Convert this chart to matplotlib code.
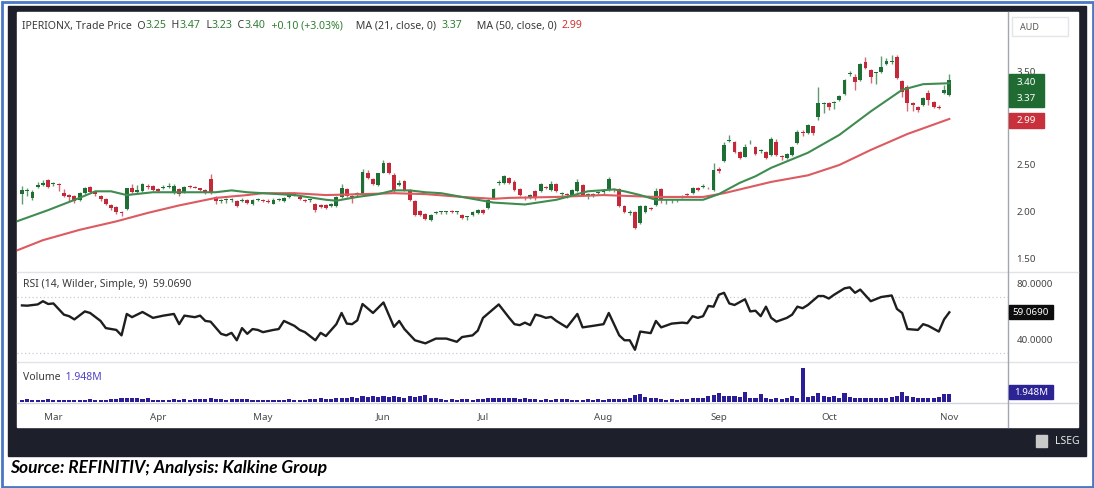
import matplotlib
matplotlib.use("Agg")
import matplotlib.pyplot as plt
import matplotlib.transforms as mtransforms
from matplotlib.patches import Rectangle
import numpy as np
import pandas as pd

plt.rcParams['font.family'] = ['Noto Sans', 'DejaVu Sans']

W, H = 1094, 488

# ASX trading days on the chart, 22 Feb - 1 Nov 2024
asx_holidays = ["2024-03-29", "2024-04-01", "2024-04-25", "2024-06-10"]
dates = pd.bdate_range("2024-02-22", "2024-11-01", freq="C", holidays=asx_holidays)

# daily candles (AUD)
opens = [2.19, 2.22, 2.15, 2.27, 2.29, 2.34, 2.30, 2.30, 2.20, 2.18,
         2.17, 2.13, 2.20, 2.27, 2.21, 2.17, 2.14, 2.07, 2.05, 2.00,
         2.03, 2.26, 2.21, 2.22, 2.28, 2.28, 2.24, 2.25, 2.27, 2.20,
         2.24, 2.21, 2.28, 2.27, 2.25, 2.23, 2.35, 2.16, 2.12, 2.13,
         2.13, 2.12, 2.12, 2.13, 2.08, 2.13, 2.13, 2.12, 2.09, 2.13,
         2.12, 2.16, 2.19, 2.16, 2.13, 2.13, 2.09, 2.07, 2.07, 2.06,
         2.06, 2.16, 2.24, 2.17, 2.18, 2.19, 2.42, 2.35, 2.29, 2.42,
         2.52, 2.39, 2.29, 2.33, 2.23, 2.12, 2.01, 1.98, 1.91, 1.99,
         2.00, 2.00, 2.01, 2.00, 1.97, 1.95, 1.97, 1.99, 2.02, 2.04,
         2.15, 2.31, 2.31, 2.36, 2.32, 2.24, 2.16, 2.15, 2.22, 2.22,
         2.27, 2.23, 2.30, 2.19, 2.19, 2.18, 2.22, 2.29, 2.18, 2.18,
         2.20, 2.21, 2.23, 2.24, 2.24, 2.06, 1.99, 2.00, 1.88, 2.00,
         2.04, 2.07, 2.24, 2.13, 2.13, 2.13, 2.16, 2.19, 2.20, 2.26,
         2.27, 2.26, 2.23, 2.46, 2.54, 2.76, 2.75, 2.64, 2.59, 2.74,
         2.69, 2.65, 2.64, 2.61, 2.75, 2.60, 2.57, 2.61, 2.73, 2.85,
         2.84, 2.91, 3.01, 3.15, 3.16, 3.16, 3.19, 3.26, 3.47, 3.44,
         3.40, 3.60, 3.51, 3.48, 3.49, 3.57, 3.60, 3.65, 3.39, 3.33,
         3.16, 3.12, 3.14, 3.27, 3.17, 3.12, 3.27, 3.25]
highs = [2.28, 2.26, 2.23, 2.32, 2.34, 2.35, 2.32, 2.31, 2.24, 2.19,
         2.18, 2.21, 2.27, 2.28, 2.22, 2.18, 2.15, 2.08, 2.06, 2.01,
         2.26, 2.30, 2.29, 2.31, 2.30, 2.29, 2.25, 2.29, 2.31, 2.30,
         2.25, 2.28, 2.29, 2.28, 2.26, 2.24, 2.40, 2.17, 2.14, 2.15,
         2.15, 2.13, 2.15, 2.14, 2.14, 2.15, 2.14, 2.14, 2.15, 2.15,
         2.16, 2.21, 2.21, 2.17, 2.14, 2.14, 2.10, 2.08, 2.08, 2.10,
         2.17, 2.30, 2.25, 2.18, 2.21, 2.46, 2.45, 2.36, 2.42, 2.55,
         2.53, 2.41, 2.34, 2.34, 2.24, 2.13, 2.02, 1.99, 1.98, 2.01,
         2.01, 2.01, 2.02, 2.01, 1.98, 1.96, 2.01, 2.03, 2.03, 2.14,
         2.25, 2.34, 2.39, 2.37, 2.34, 2.25, 2.17, 2.19, 2.23, 2.31,
         2.28, 2.33, 2.31, 2.21, 2.20, 2.24, 2.35, 2.30, 2.20, 2.20,
         2.22, 2.22, 2.37, 2.25, 2.25, 2.07, 2.02, 2.01, 2.07, 2.07,
         2.05, 2.25, 2.25, 2.14, 2.14, 2.14, 2.18, 2.20, 2.27, 2.27,
         2.30, 2.27, 2.52, 2.48, 2.74, 2.82, 2.76, 2.65, 2.72, 2.77,
         2.70, 2.67, 2.65, 2.80, 2.78, 2.61, 2.63, 2.70, 2.87, 2.87,
         2.94, 2.92, 3.33, 3.17, 3.17, 3.18, 3.24, 3.41, 3.50, 3.47,
         3.58, 3.65, 3.52, 3.49, 3.66, 3.64, 3.67, 3.67, 3.40, 3.35,
         3.17, 3.13, 3.22, 3.30, 3.18, 3.14, 3.35, 3.47]
lows = [2.08, 2.17, 2.13, 2.25, 2.28, 2.26, 2.28, 2.22, 2.16, 2.12,
        2.10, 2.12, 2.19, 2.20, 2.17, 2.12, 2.07, 2.02, 1.98, 1.96,
        2.02, 2.20, 2.20, 2.21, 2.24, 2.22, 2.21, 2.24, 2.25, 2.19,
        2.17, 2.20, 2.26, 2.25, 2.22, 2.19, 2.19, 2.08, 2.10, 2.10,
        2.11, 2.05, 2.11, 2.09, 2.07, 2.12, 2.11, 2.10, 2.08, 2.12,
        2.11, 2.15, 2.17, 2.13, 2.11, 2.11, 2.00, 2.04, 2.03, 2.05,
        2.05, 2.15, 2.16, 2.10, 2.17, 2.18, 2.35, 2.29, 2.28, 2.41,
        2.40, 2.20, 2.28, 2.22, 2.12, 1.96, 1.96, 1.92, 1.90, 1.98,
        1.98, 1.98, 1.99, 1.98, 1.93, 1.92, 1.96, 1.98, 1.98, 2.03,
        2.14, 2.29, 2.30, 2.30, 2.22, 2.17, 2.13, 2.14, 2.13, 2.21,
        2.24, 2.22, 2.21, 2.16, 2.15, 2.17, 2.21, 2.17, 2.14, 2.16,
        2.18, 2.19, 2.22, 2.21, 2.05, 1.99, 1.97, 1.82, 1.87, 1.99,
        2.02, 2.06, 2.10, 2.09, 2.10, 2.11, 2.15, 2.16, 2.19, 2.22,
        2.26, 2.24, 2.22, 2.42, 2.53, 2.74, 2.63, 2.56, 2.58, 2.72,
        2.61, 2.63, 2.56, 2.60, 2.60, 2.55, 2.56, 2.60, 2.72, 2.81,
        2.83, 2.82, 2.98, 3.05, 3.08, 3.10, 3.18, 3.25, 3.45, 3.30,
        3.39, 3.52, 3.37, 3.36, 3.48, 3.56, 3.57, 3.42, 3.22, 3.07,
        3.07, 3.06, 3.13, 3.14, 3.11, 3.10, 3.26, 3.23]
closes = [2.23, 2.23, 2.21, 2.29, 2.31, 2.27, 2.30, 2.29, 2.17, 2.16,
          2.12, 2.20, 2.25, 2.21, 2.19, 2.14, 2.08, 2.04, 2.00, 1.99,
          2.25, 2.21, 2.23, 2.30, 2.27, 2.23, 2.22, 2.27, 2.27, 2.28,
          2.19, 2.27, 2.27, 2.26, 2.23, 2.20, 2.20, 2.12, 2.12, 2.13,
          2.13, 2.06, 2.13, 2.10, 2.13, 2.13, 2.12, 2.11, 2.13, 2.14,
          2.15, 2.20, 2.18, 2.14, 2.12, 2.13, 2.02, 2.05, 2.04, 2.09,
          2.16, 2.25, 2.17, 2.16, 2.20, 2.43, 2.36, 2.30, 2.41, 2.52,
          2.42, 2.22, 2.31, 2.23, 2.13, 1.97, 1.97, 1.93, 1.97, 2.00,
          2.00, 2.00, 2.00, 2.00, 1.94, 1.95, 2.00, 2.02, 1.99, 2.13,
          2.24, 2.32, 2.38, 2.31, 2.23, 2.18, 2.15, 2.18, 2.15, 2.30,
          2.26, 2.30, 2.22, 2.19, 2.18, 2.23, 2.32, 2.18, 2.18, 2.19,
          2.21, 2.21, 2.35, 2.23, 2.06, 2.00, 2.00, 1.83, 2.06, 2.06,
          2.03, 2.22, 2.13, 2.13, 2.13, 2.13, 2.17, 2.18, 2.26, 2.23,
          2.28, 2.25, 2.45, 2.44, 2.71, 2.77, 2.64, 2.57, 2.69, 2.75,
          2.62, 2.66, 2.57, 2.78, 2.61, 2.59, 2.62, 2.69, 2.85, 2.84,
          2.93, 2.84, 3.16, 3.15, 3.12, 3.17, 3.23, 3.40, 3.48, 3.38,
          3.57, 3.53, 3.44, 3.48, 3.54, 3.61, 3.60, 3.43, 3.28, 3.16,
          3.14, 3.08, 3.21, 3.19, 3.12, 3.11, 3.30, 3.40]

# moving averages, read at points along the lines (candle index, value)
ma21_idx = [-1, 5, 11, 14, 17, 20, 25, 31, 37, 40, 43, 46, 52, 58, 60, 64, 68, 71, 74, 77, 80, 84,
            87, 90, 93, 96, 102, 108, 113, 115, 118, 121, 124, 130, 133, 137, 140, 143, 150, 156,
            162, 168, 172, 177]
ma21 = [1.90, 2.02, 2.15, 2.22, 2.22, 2.18, 2.21, 2.21, 2.21, 2.23, 2.21, 2.20, 2.18, 2.13, 2.12,
        2.16, 2.19, 2.23, 2.23, 2.21, 2.20, 2.16, 2.13, 2.10, 2.09, 2.08, 2.13, 2.22, 2.24, 2.22,
        2.18, 2.13, 2.13, 2.13, 2.19, 2.31, 2.38, 2.47, 2.63, 2.82, 3.07, 3.30, 3.36, 3.37]
ma50_idx = [-1, 4, 11, 18, 24, 30, 37, 43, 46, 52, 58, 65, 71, 77, 84, 90, 93, 102, 111, 121, 130,
            134, 137, 140, 143, 150, 156, 162, 169, 173, 177]
ma50 = [1.59, 1.70, 1.81, 1.90, 1.99, 2.07, 2.15, 2.18, 2.20, 2.20, 2.18, 2.19, 2.20, 2.19, 2.16,
        2.14, 2.15, 2.16, 2.18, 2.16, 2.16, 2.20, 2.24, 2.28, 2.32, 2.39, 2.50, 2.66, 2.83, 2.91, 2.99]

# RSI(14) turning points (candle index, value)
rsi_idx = [0, 1, 3, 4, 5, 6, 8, 9, 10, 12, 13, 15, 16, 18, 19, 20, 21, 23, 25, 27,
           29, 30, 31, 33, 34, 35, 36, 38, 39, 40, 41, 42, 43, 44, 45, 46, 48, 49, 50, 52,
           53, 54, 56, 57, 58, 60, 61, 62, 63, 64, 65, 67, 69, 71, 72, 73, 75, 77, 79, 81,
           83, 84, 86, 87, 88, 91, 93, 94, 95, 96, 97, 98, 99, 100, 101, 102, 104, 106, 107, 109,
           111, 112, 114, 115, 116, 117, 118, 120, 121, 122, 124, 126, 127, 128, 129, 130, 131, 132, 133, 134,
           135, 136, 138, 139, 140, 141, 142, 143, 144, 146, 147, 148, 149, 150, 152, 153, 154, 155, 157, 158,
           159, 160, 162, 164, 166, 167, 168, 169, 171, 172, 173, 175, 176, 177]
rsi = [64.0, 63.8, 64.7, 67.0, 65.0, 65.4, 57.4, 56.3, 54.0, 59.7,
       58.6, 52.9, 47.8, 46.5, 42.6, 57.9, 55.6, 59.3, 55.1, 56.7,
       57.9, 50.6, 56.7, 55.6, 56.7, 52.9, 52.4, 43.7, 42.6, 44.4,
       39.1, 47.8, 43.7, 47.1, 46.5, 44.9, 46.5, 47.1, 52.9, 49.4,
       46.5, 44.9, 39.1, 44.4, 42.1, 50.6, 58.6, 51.0, 50.6, 53.3,
       65.0, 58.6, 66.1, 48.7, 52.9, 47.1, 39.1, 36.9, 40.3, 40.3,
       38.0, 41.4, 42.6, 46.0, 55.1, 64.7, 55.1, 50.6, 49.9, 51.7,
       49.9, 57.4, 56.5, 55.1, 55.8, 52.9, 48.3, 57.9, 48.3, 49.4,
       50.6, 58.6, 42.6, 39.1, 39.1, 32.3, 45.3, 44.2, 52.9, 48.3,
       51.0, 51.7, 51.3, 56.3, 55.1, 56.3, 63.6, 63.1, 71.6, 73.0,
       65.4, 64.3, 68.4, 59.7, 60.2, 56.3, 63.1, 55.1, 52.4, 55.1,
       57.4, 63.1, 62.0, 64.3, 70.7, 70.7, 68.9, 71.6, 76.2, 76.9,
       73.0, 75.3, 67.0, 70.0, 71.1, 61.5, 58.6, 47.1, 46.5, 50.6,
       49.4, 45.3, 54.0, 59.069]

# daily volume, millions of shares
volume = [0.5, 0.6, 0.5, 0.4, 0.5, 0.6, 0.5, 0.5, 0.4, 0.5,
          0.4, 0.5, 0.5, 0.6, 0.5, 0.4, 0.5, 0.6, 0.7, 0.9,
          1.0, 0.9, 1.0, 0.7, 0.9, 0.5, 0.4, 0.4, 0.5, 0.6,
          0.5, 0.6, 0.5, 0.6, 0.7, 0.6, 0.8, 0.7, 0.6, 0.5,
          0.7, 0.6, 0.6, 0.7, 0.5, 0.4, 0.4, 0.5, 0.5, 0.4,
          0.5, 0.6, 0.5, 0.4, 0.5, 0.7, 0.6, 0.8, 0.7, 0.6,
          0.8, 1.0, 0.9, 1.1, 1.0, 1.3, 1.2, 1.4, 1.2, 1.3,
          1.1, 1.3, 1.2, 1.0, 1.3, 1.2, 1.4, 1.7, 0.9, 1.0,
          0.6, 0.5, 0.6, 0.5, 0.7, 0.6, 0.5, 0.7, 0.6, 0.9,
          1.0, 0.8, 1.0, 0.9, 0.9, 0.7, 0.8, 0.6, 0.7, 0.5,
          0.6, 0.5, 0.6, 0.7, 0.6, 0.5, 0.4, 0.5, 0.6, 0.5,
          0.6, 0.5, 0.6, 0.7, 0.6, 0.7, 0.8, 1.7, 1.8, 1.1,
          0.8, 0.8, 0.6, 0.5, 0.6, 0.5, 0.7, 0.6, 0.8, 0.9,
          0.8, 1.5, 1.6, 2.1, 1.4, 1.5, 1.3, 1.1, 2.4, 0.9,
          1.0, 1.9, 0.8, 0.6, 1.0, 0.7, 0.8, 1.4, 0.9, 8.6,
          1.2, 1.4, 2.1, 1.3, 1.15, 1.3, 1.0, 2.1, 1.2, 1.0,
          0.9, 1.0, 0.8, 1.0, 0.9, 1.0, 1.1, 1.3, 2.4, 1.4,
          1.1, 1.0, 0.9, 1.0, 1.0, 1.1, 1.95, 1.948]

price_ticks = [1.5, 2.0, 2.5, 3.0, 3.5]
rsi_ticks = [40, 80]

UP, DOWN = '#1d6f34', '#c4293a'
MA21_C, MA50_C = '#3f8c50', '#dc5a60'
VOL_C = '#2b1c98'
FRAME = '#1d202b'

fig = plt.figure(figsize=(W / 100, H / 100), dpi=100)
fig.patch.set_facecolor('white')


def px_axes(x0, y0, x1, y1):
    # axes placed by pixel box (top-left origin)
    return fig.add_axes([x0 / W, 1 - y1 / H, (x1 - x0) / W, (y1 - y0) / H])


# frame layer in pixel coordinates
bg = px_axes(0, 0, W, H)
bg.set_xlim(0, W)
bg.set_ylim(H, 0)
bg.axis('off')
bg.add_patch(Rectangle((1.5, 1.5), W - 3, H - 3, fill=False, ec='#4a78c4', lw=2))
bg.add_patch(Rectangle((8, 6), 1078, 450, color=FRAME))
bg.add_patch(Rectangle((17, 12), 1061, 415, color='white'))
bg.plot([17, 1078], [271.5, 271.5], color='#e1e3ea', lw=1)
bg.plot([17, 1078], [361.5, 361.5], color='#e1e3ea', lw=1)
bg.plot([17, 1078], [402.5, 402.5], color='#d3d5dc', lw=1)
bg.plot([1008, 1008], [12, 427], color='#a3a6ae', lw=1)

# AUD tag
bg.add_patch(Rectangle((1012, 17), 56, 19, fc='white', ec='#e3e5ea', lw=1))
bg.text(1020, 27, 'AUD', fontsize=6.5, color='#555555', va='center')

# LSEG mark in the bottom band
bg.add_patch(Rectangle((1036, 435), 11, 12, color='#c9c9c9'))
bg.text(1080, 441, 'LSEG', fontsize=7.5, color='#e8e8e8', ha='right', va='center')

bg.text(10, 468, 'Source: REFINITIV; Analysis: Kalkine Group', fontfamily='Lato',
        fontweight='bold', fontstyle='italic', fontsize=12.5, color='black', va='center')


def chain_text(ax, x, y, parts, size=7):
    t = ax.text(x, y, parts[0][0], color=parts[0][1], fontsize=size, va='center', ha='left')
    for s, col in parts[1:]:
        t = ax.annotate(s, xy=(1, 0), xycoords=t, va='bottom', ha='left', color=col, fontsize=size)
    return t


G, R, K = '#2e7d32', '#d32f2f', '#3a3a3a'
chain_text(bg, 22, 26, [('IPERIONX, Trade Price  O', K), ('3.25', G), ('  H', K), ('3.47', G),
                        ('  L', K), ('3.23', G), ('  C', K), ('3.40', G), ('  +0.10 (+3.03%)', G),
                        ('     MA (21, close, 0)  ', K), ('3.37', G),
                        ('     MA (50, close, 0)  ', K), ('2.99', R)], size=7.6)
chain_text(bg, 23, 285, [('RSI (14, Wilder, Simple, 9)  59.0690', K)], size=7.5)
chain_text(bg, 23, 377, [('Volume', K), ('  1.948M', '#4f43c4')], size=7.5)

XL = (-0.95, 188.2)
idx = np.arange(len(closes))
o, hi, lo, c = (np.array(a) for a in (opens, highs, lows, closes))
col = np.where(c >= o, UP, DOWN)


def clean(ax):
    ax.set_facecolor('none')
    for s in ax.spines.values():
        s.set_visible(False)
    ax.set_xlim(*XL)
    ax.yaxis.tick_right()
    ax.tick_params(axis='y', length=0, pad=6, labelsize=7, labelcolor='#444444')
    ax.tick_params(axis='x', length=0)


def value_box(ax, y0, y1, width, color, labels):
    tr = mtransforms.blended_transform_factory(ax.transAxes, ax.transData)
    ax.add_patch(Rectangle((1.001, y0), width, y1 - y0, transform=tr, color=color,
                           clip_on=False, zorder=5))
    for txt, yv in labels:
        ax.text(1.001 + width / 2, yv, txt, transform=tr, ha='center', va='center',
                color='white', fontsize=7, zorder=6, clip_on=False)


# price panel
axp = px_axes(17, 12, 1008, 271)
clean(axp)
axp.set_ylim(1.372, 4.128)
axp.set_xticks([])
axp.set_yticks(price_ticks)
axp.set_yticklabels([f'{v:.2f}' for v in price_ticks])
axp.vlines(idx, lo, hi, colors=col, lw=1.0, alpha=0.7, zorder=2)
axp.bar(idx, np.maximum(np.abs(c - o), 0.01), bottom=np.minimum(o, c), width=0.74,
        color=col, zorder=2)
axp.plot(ma50_idx, ma50, color=MA50_C, lw=1.5, zorder=3)
axp.plot(ma21_idx, ma21, color=MA21_C, lw=1.5, zorder=3)
value_box(axp, 3.117, 3.468, 0.0353, '#1f6b32', [('3.40', 3.376), ('3.37', 3.205)])
value_box(axp, 2.89, 3.056, 0.0353, '#c8313c', [('2.99', 2.975)])

# RSI panel
axr = px_axes(17, 272, 1008, 361)
clean(axr)
axr.set_ylim(24.29, 87.86)
axr.set_xticks([])
axr.set_yticks(rsi_ticks)
axr.set_yticklabels([f'{v:.4f}' for v in rsi_ticks])
axr.axhline(70, color='#c9cbd1', lw=0.9, ls=(0, (1, 2)))
axr.axhline(30, color='#c9cbd1', lw=0.9, ls=(0, (1, 2)))
axr.plot(rsi_idx, rsi, color='#1e1e1e', lw=1.7)
value_box(axr, 54.1, 64.1, 0.0444, '#0d0d0d', [(f'{rsi[-1]:.4f}', 59.069)])

# volume panel
axv = px_axes(17, 362, 1008, 401.5)
clean(axv)
axv.set_ylim(0, 10.1)
axv.set_yticks([])
axv.bar(idx, volume, width=0.78, color=VOL_C)
month_pos = [i for i in range(1, len(dates)) if dates[i].month != dates[i - 1].month]
axv.set_xticks(month_pos)
axv.set_xticklabels([dates[i].strftime('%b') for i in month_pos])
axv.tick_params(axis='x', pad=8, labelsize=7, labelcolor='#4a4a4a')
value_box(axv, 0.6, 4.2, 0.0444, '#2c2495', [('1.948M', 2.4)])

fig.savefig('out.png', dpi=100)
